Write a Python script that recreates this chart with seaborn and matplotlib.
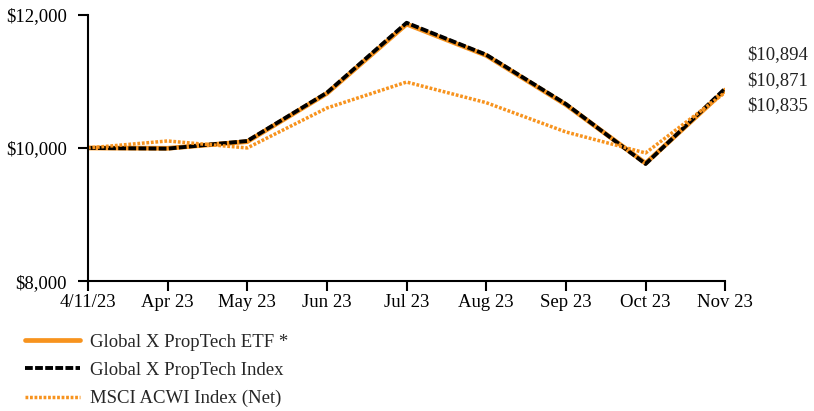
import matplotlib
matplotlib.use("Agg")
import matplotlib.pyplot as plt
import seaborn as sns
import pandas as pd

dates = ["4/11/23", "Apr 23", "May 23", "Jun 23", "Jul 23", "Aug 23", "Sep 23", "Oct 23", "Nov 23"]
etf = [10000, 9995, 10095, 10820, 11860, 11390, 10650, 9770, 10871]
index = [10000, 9990, 10105, 10830, 11880, 11400, 10660, 9760, 10894]
msci = [10000, 10105, 10000, 10600, 10990, 10680, 10240, 9925, 10835]
end_labels = ["$10,894", "$10,871", "$10,835"]

sns.set_style("white")
plt.rcParams['font.family'] = ['Liberation Serif', 'DejaVu Serif']

orange = "#F7931E"
fs = 13.5
fig, ax = plt.subplots(figsize=(8.14, 4.11), dpi=100)
fig.subplots_adjust(left=0.108, right=0.891, top=0.964, bottom=0.316)

x = list(range(len(dates)))
df = pd.DataFrame({"x": x, "etf": etf, "index": index, "msci": msci})

sns.lineplot(data=df, x="x", y="etf", ax=ax, color=orange, linewidth=3.4,
             label="Global X PropTech ETF *")
sns.lineplot(data=df, x="x", y="index", ax=ax, color="black", linewidth=2.8,
             linestyle=(0, (2, 0.6)), label="Global X PropTech Index")
sns.lineplot(data=df, x="x", y="msci", ax=ax, color=orange, linewidth=2.5,
             linestyle=(0, (0.8, 0.5)), label="MSCI ACWI Index (Net)")

ax.set_xlim(0, len(dates) - 1)
ax.set_ylim(8000, 12000)
ax.set_xticks(x)
ax.set_xticklabels(dates)
ax.set_yticks([8000, 10000, 12000])
ax.set_yticklabels(["$8,000", "$10,000", "$12,000"])
ax.set_xlabel("")
ax.set_ylabel("")
for s in ["top", "right"]:
    ax.spines[s].set_visible(False)
for s in ["left", "bottom"]:
    ax.spines[s].set_color("black")
    ax.spines[s].set_linewidth(1.5)
ax.tick_params(axis="both", which="both", direction="out", length=7, width=1.5,
               colors="black", labelsize=fs, bottom=True, left=True)
ax.tick_params(axis="x", pad=2)
ax.tick_params(axis="y", pad=8)

for i, lab in enumerate(end_labels):
    ax.text(1.035, 0.85 - i * 0.096, lab, transform=ax.transAxes, fontsize=fs,
            ha="left", va="center", color="#222222")

ax.legend(loc="upper left", bbox_to_anchor=(-0.11, -0.17), frameon=False,
          fontsize=fs, handlelength=2.9, labelspacing=0.58, handletextpad=0.55,
          borderaxespad=0)

fig.savefig("out.png", dpi=100)
